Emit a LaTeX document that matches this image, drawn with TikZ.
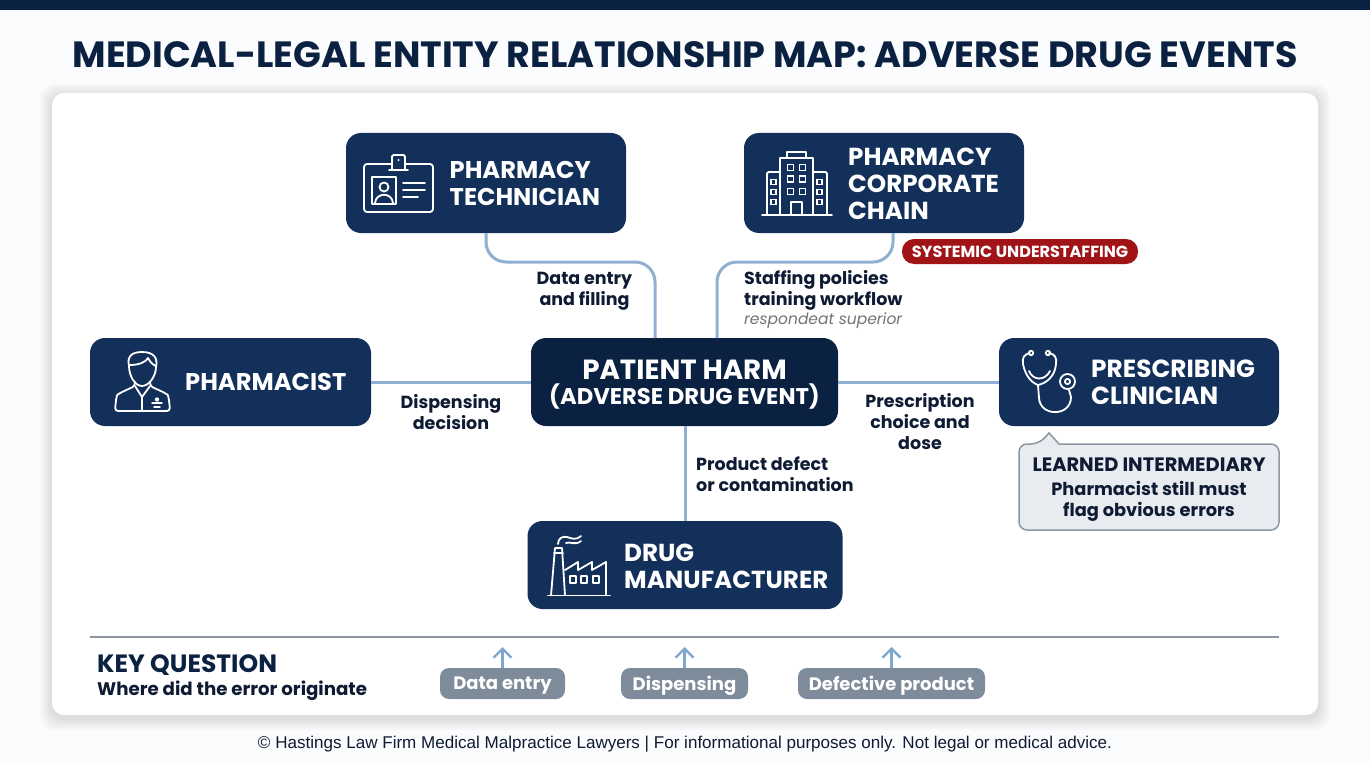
\documentclass[tikz,border=0pt]{standalone}
\usepackage{fontspec}
\setmainfont{Poppins}
\newfontfamily\foot{Liberation Sans}
\usetikzlibrary{arrows.meta}
\definecolor{navy}{HTML}{12305A}
\definecolor{navyd}{HTML}{0B2142}
\definecolor{ink}{HTML}{0F1B33}
\definecolor{conn}{HTML}{8FB0D0}
\definecolor{arrowc}{HTML}{7FA6CC}
\definecolor{pillc}{HTML}{7D8B9A}
\definecolor{redb}{HTML}{A01418}
\definecolor{calf}{HTML}{E8ECF1}
\definecolor{cald}{HTML}{8C96A2}
\definecolor{pagebg}{HTML}{FBFCFD}
\tikzset{
 entity/.style={fill=navy,rounded corners=15,inner sep=0,minimum height=88},
 lbl/.style={text=white,font=\fontsize{24.6}{27}\selectfont\bfseries,align=left,anchor=west,inner sep=0},
 lbls/.style={lbl,font=\fontsize{24.2}{27}\selectfont\bfseries},
 link/.style={draw=conn,line width=3,rounded corners=20},
 edgetext/.style={text=ink,font=\fontsize{17.5}{21}\selectfont\bfseries,inner sep=0},
 pill/.style={fill=pillc,rounded corners=9,minimum height=31,inner sep=0},
 pilltext/.style={text=white,inner sep=0,font=\fontsize{18}{20}\selectfont\bfseries},
 upar/.style={draw=arrowc,line width=2.4,-{Straight Barb[length=9,width=18,line width=2.4]}},
 icon/.style={draw=white,line width=1.8,line join=round,line cap=round,fill=none},
}
\begin{document}
\begin{tikzpicture}[x=1pt,y=-1pt]
\useasboundingbox (0,0) rectangle (1370,765);
\fill[pagebg] (0,0) rectangle (1370,765);
\fill[navyd] (0,0) rectangle (1370,10);
\node[text=navyd,font=\fontsize{36.5}{38}\selectfont\bfseries,inner sep=0] (title) at (685,54.5) {MEDICAL-LEGAL ENTITY RELATIONSHIP MAP: ADVERSE DRUG EVENTS};
% panel
\foreach \k in {12,10,8,6,4,2}{
 \fill[black,opacity=0.018,rounded corners=14] (52-\k,93-\k+3) rectangle (1318+\k,715+\k+3);}
\fill[white,rounded corners=12] (52,93) rectangle (1318,715);
% nodes
\node[entity,minimum width=280,minimum height=100] (tech) at (486,183) {};
\node[entity,minimum width=280,minimum height=100] (chain) at (884,183) {};
\node[entity,minimum width=281] (pharm) at (230.5,382) {};
\node[entity,minimum width=307,fill=navyd] (harm) at (684.5,382) {};
\node[entity,minimum width=280] (clin) at (1139,382) {};
\node[entity,minimum width=315] (mfr) at (685,565) {};
% connectors
\coordinate (t1) at (655,338);
\coordinate (c1) at (717,338);
\coordinate (c0) at (893,233);
\coordinate (m1) at (685,521);
\draw[link] (tech.south) -- (486,262) -- (655,262) -- (t1);
\draw[link] (c0) -- (893,262) -- (717,262) -- (c1);
\draw[link] (pharm.east) -- (harm.west);
\draw[link] (harm.east) -- (clin.west);
\draw[link] (harm.south -| m1) -- (m1);
% node labels
\node[lbls] (techl) at (449.5,183.5) {PHARMACY\\TECHNICIAN};
\node[lbl] (chainl) at (848,184) {PHARMACY\\CORPORATE\\CHAIN};
\node[lbls] (pharml) at (185,382) {PHARMACIST};
\node[lbl,font=\fontsize{24.8}{27}\selectfont\bfseries] (clinl) at (1091,382.5) {PRESCRIBING\\CLINICIAN};
\node[lbl] (mfrl) at (624,566) {DRUG\\MANUFACTURER};
\node[text=white,inner sep=0,font=\fontsize{27.7}{30}\selectfont\bfseries] (harml) at (684.5,370) {PATIENT HARM};
\node[text=white,inner sep=0,font=\fontsize{22.7}{26}\selectfont\bfseries] (harml2) at (684.5,396.5) {(ADVERSE DRUG EVENT)};
% edge labels
\node[edgetext,align=center] (e1) at (584.5,291) {Data entry\\and filling};
\node[edgetext,align=left,anchor=west] (e2) at (744,290) {Staffing policies\\training workflow};
\node[anchor=west,inner sep=0,text=black!55,font=\fontsize{15.5}{18}\selectfont\itshape] (e2b) at (744,320.5) {respondeat superior};
\node[edgetext,align=center] (e3) at (451,412) {Dispensing\\decision};
\node[edgetext,align=center] (e4) at (920,422) {Prescription\\choice and\\dose};
\node[edgetext,align=left,anchor=west] (e5) at (696,474) {Product defect\\or contamination};
% badge
\node[fill=redb,text=white,rounded corners=12,minimum width=236,minimum height=25,inner sep=0,font=\fontsize{16.1}{18}\selectfont\bfseries] (badge) at (1020,251.5) {SYSTEMIC UNDERSTAFFING};
% callout
\draw[draw=cald,fill=calf,line width=1.5,rounded corners=8] (1019,444) -- (1039,444) [sharp corners] -- (1049,433) -- (1059,444) [rounded corners=8] -- (1279,444) -- (1279,530) -- (1019,530) -- cycle;
\node[text=ink,inner sep=0,font=\fontsize{19.4}{22}\selectfont\bfseries] (cal1) at (1149,464.5) {LEARNED INTERMEDIARY};
\node[text=ink,align=center,inner sep=0,font=\fontsize{17.8}{21}\selectfont\bfseries] (cal2) at (1149,501.5) {Pharmacist still must\\flag obvious errors};
% bottom
\coordinate (sepa) at (90,637); \coordinate (sepb) at (1279,637);
\draw[line width=1.6,draw=cald] (sepa) -- (sepb);
\node[anchor=west,inner sep=0,text=navyd,font=\fontsize{25}{28}\selectfont\bfseries] (kq) at (97,665.5) {KEY QUESTION};
\node[anchor=west,inner sep=0,text=ink,font=\fontsize{18.2}{20}\selectfont\bfseries] (kq2) at (97,691) {Where did the error originate};
\node[pill,minimum width=125] (p1) at (502.5,683.5) {};
\node[pill,minimum width=127] (p2) at (684.5,683.5) {};
\node[pill,minimum width=187] (p3) at (891.5,683.5) {};
\node[pilltext] at (502.5,686) {Data entry};
\node[pilltext] at (684.5,686) {Dispensing};
\node[pilltext] at (891.5,686) {Defective product};
\coordinate (a1) at (502.5,647); \coordinate (a2) at (684.5,647); \coordinate (a3) at (891.5,647);
\draw[upar] (p1.north) -- (a1);
\draw[upar] (p2.north) -- (a2);
\draw[upar] (p3.north) -- (a3);
\node[inner sep=0,text=ink,font=\fontsize{17.05}{20}\selectfont\foot] (fn) at (685,744.5) {© Hastings Law Firm Medical Malpractice Lawyers | For informational purposes only. Not legal or medical advice.};
% icon: id badge
\begin{scope}[icon]
 \draw[rounded corners=3] (364,164) rectangle (433,212);
 \draw[fill=navy,rounded corners=1.5] (392,170) -- (392,155) -- (405,155) -- (405,170);
 \draw (389,170) -- (408,170);
 \fill[white] (398.5,160) circle (1.2);
 \draw (372,177) rectangle (396,204);
 \draw (384,187) circle (4.5);
 \draw (375,203) .. controls (376,192) and (392,192) .. (393,203);
 \draw (403,183) -- (425,183); \draw (403,190) -- (425,190); \draw (403,197) -- (418,197);
\end{scope}
% icon: building
\begin{scope}[icon]
 \draw (762,215) -- (832,215);
 \draw (780,215) -- (780,158) -- (813,158) -- (813,215);
 \draw (787,158) -- (787,152) -- (806,152) -- (806,158);
 \draw[rounded corners=1.5] (780,172) -- (767,172) -- (767,215);
 \draw[rounded corners=1.5] (813,172) -- (827,172) -- (827,215);
 \draw (791,215) -- (791,202) -- (802,202) -- (802,215);
\end{scope}
\begin{scope}[draw=white,line width=1.5]
 \foreach \x/\y in {790.5/167.5,802.5/167.5,790.5/179,802.5/179,790.5/191.5,802.5/191.5}
  \draw (\x-3,\y-3) rectangle (\x+3,\y+3);
 \foreach \y in {182,192,202}{
  \draw (771,\y-2.5) rectangle (776,\y+2.5);
  \draw (817,\y-2.5) rectangle (822,\y+2.5);}
\end{scope}
% icon: pharmacist
\begin{scope}[icon]
 \draw (129,366) .. controls (127,357) and (131,352) .. (142,352) .. controls (154,352) and (158,358) .. (156,367) .. controls (156,376) and (149,386) .. (142,386) .. controls (135,386) and (129,376) .. (129,366);
 \draw (130,365) .. controls (139,365) and (146,362) .. (148,358) .. controls (150,362) and (153,365) .. (156,366);
 \draw[rounded corners=3] (135,382) -- (135,386) -- (120,393) .. controls (117,395) and (116,398) .. (115,411) -- (170,411) .. controls (169,398) and (168,395) .. (165,393) -- (150,386) -- (150,382);
 \draw (135,386) -- (142,397) -- (150,386);
 \draw (142,397) -- (142,411);
 \draw[line width=1.4] (152,403) -- (162,403); \draw[line width=1.4] (154,407) -- (160,407);
 \fill[white] (157,399.5) circle (2.2);
\end{scope}
% icon: stethoscope
\begin{scope}[icon]
 \draw (1030,353) .. controls (1024,354) and (1022,358) .. (1023,364) .. controls (1025,374) and (1030,382) .. (1038,385) .. controls (1047,383) and (1055,376) .. (1056,364) .. controls (1057,358) and (1055,354) .. (1049,353);
 \draw (1029,371) .. controls (1033,381) and (1045,381) .. (1050,371);
 \draw (1038,385) -- (1039,398) .. controls (1040,417) and (1071,417) .. (1071,397) -- (1069,390);
 \draw (1067.5,381.5) circle (7.5);
 \draw (1067.5,381.5) circle (2.6);
 \draw (1031,353) circle (2.2); \draw (1048,353) circle (2.2);
\end{scope}
% icon: factory
\begin{scope}[icon]
 \draw (548,595.5) -- (610,595.5);
 \draw (551,595.5) -- (555,548) -- (562,548) -- (565,595.5);
 \draw (554,553) -- (563,553);
 \draw (565,570) -- (578,562) -- (578,570) -- (592,562) -- (592,570) -- (606,562) -- (606,595.5);
 \draw (558,544) .. controls (558,538) and (563,536) .. (567,537) .. controls (571,538) and (575,541) .. (581,536);
 \draw (566,543) .. controls (570,541) and (575,546) .. (581,541);
 \draw (570,576) rectangle (576,583);
 \draw (581,576) rectangle (587,583);
 \draw (593,576) rectangle (599,583);
\end{scope}
\end{tikzpicture}
\end{document}
